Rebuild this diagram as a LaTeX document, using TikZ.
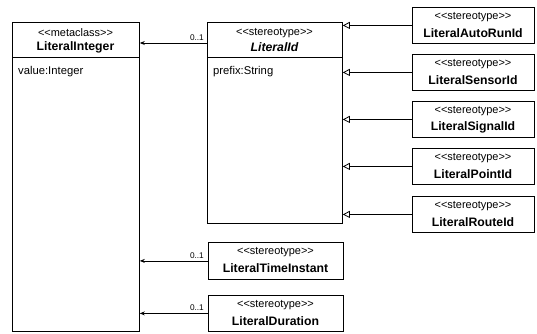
\documentclass[tikz,border=0pt]{standalone}
\usepackage{fontspec}
\setmainfont{Liberation Sans}
\usetikzlibrary{arrows.meta}
\newcommand\lgl{<\kern0pt<}
\newcommand\rgl{>\kern0pt>}
\begin{document}
\begin{tikzpicture}[x=1bp,y=-1bp,
  box/.style={draw, line width=0.8bp, inner sep=0pt, anchor=north west},
  st/.style={font=\fontsize{11}{13}\selectfont, inner sep=0pt},
  nm/.style={font=\fontsize{12.3}{14}\selectfont\bfseries, inner sep=0pt},
  attr/.style={font=\fontsize{11.3}{13}\selectfont, inner sep=0pt, anchor=west},
  mul/.style={font=\fontsize{8.3}{10}\selectfont, inner sep=0pt, anchor=south east},
  assoc/.style={line width=0.8bp, -{Stealth[length=5bp,width=4bp]}},
  gen/.style={line width=0.8bp, -{Triangle[open,length=7bp,width=7bp]}}
]
\useasboundingbox (0,0) rectangle (537,333);
% LiteralInteger
\node[box, minimum width=127bp, minimum height=309bp] (lint) at (12,22) {};
\draw[line width=0.8bp] (lint.west |- 0,57) coordinate (lintd) -- (lintd -| lint.east);
\node[st] (lints) at (75.5,33) {\lgl metaclass\rgl};
\node[nm] (lintn) at (75.5,47) {LiteralInteger};
\node[attr] (linta) at (18,72) {value:Integer};
% LiteralId
\node[box, minimum width=135bp, minimum height=201bp] (lid) at (207,22) {};
\draw[line width=0.8bp] (lid.west |- 0,57) coordinate (lidd) -- (lidd -| lid.east);
\node[st] (lids) at (274.5,33) {\lgl stereotype\rgl};
\node[nm, font=\fontsize{12.3}{14}\selectfont\bfseries\itshape] (lidn) at (274.5,47) {LiteralId};
\node[attr] (lida) at (213,72) {prefix:String};
% right boxes
\foreach \y/\n/\t in {7/r1/LiteralAutoRunId, 54/r2/LiteralSensorId, 101/r3/LiteralSignalId, 148/r4/LiteralPointId, 196/r5/LiteralRouteId}{
  \node[box, minimum width=122bp, minimum height=36bp] (\n) at (412,\y) {};
  \node[st] (\n s) at (473,\y+10) {\lgl stereotype\rgl};
  \node[nm] (\n n) at (473,\y+26) {\t};
  \draw[gen] (\n.west) -- (\n.west -| lid.east);
}
% bottom boxes
\node[box, minimum width=135bp, minimum height=37bp] (ti) at (208,242) {};
\node[st] (tis) at (275.5,252) {\lgl stereotype\rgl};
\node[nm] (tin) at (275.5,268) {LiteralTimeInstant};
\node[box, minimum width=135bp, minimum height=36bp] (du) at (208,295) {};
\node[st] (dus) at (275.5,305) {\lgl stereotype\rgl};
\node[nm] (dun) at (275.5,321) {LiteralDuration};
% associations
\draw[assoc] (lid.west |- 0,43) coordinate (a1) -- (a1 -| lint.east);
\node[mul] (m1) at (204,41) {0..1};
\draw[assoc] (ti.west) -- (ti.west -| lint.east);
\node[mul] (m2) at (204,259) {0..1};
\draw[assoc] (du.west) -- (du.west -| lint.east);
\node[mul] (m3) at (204,311) {0..1};
\end{tikzpicture}
\end{document}
